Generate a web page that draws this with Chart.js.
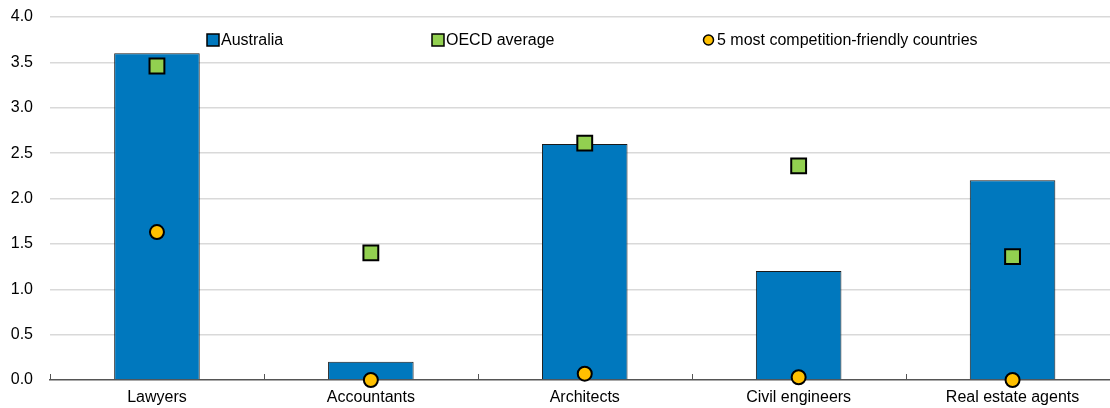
<!DOCTYPE html>
<html>
<head>
<meta charset="utf-8">
<script src="https://cdn.jsdelivr.net/npm/chart.js@4"></script>
<style>
  html, body { margin: 0; padding: 0; background: #fff; overflow: hidden; }
  #wrap { width: 1110px; height: 408px; overflow: hidden; }
</style>
</head>
<body>
<div id="wrap"><canvas id="chart" width="1132" height="408"></canvas></div>
<script>
// Professional services regulation scores
const categories = ['Lawyers', 'Accountants', 'Architects', 'Civil engineers', 'Real estate agents'];
const australia = [3.6, 0.2, 2.6, 1.2, 2.2];
const oecdAverage = [3.46, 1.4, 2.61, 2.36, 1.36];
const topFive = [1.63, 0.0, 0.07, 0.03, 0.0];
const seriesNames = ['Australia', 'OECD average', '5 most competition-friendly countries'];

const FONT = '"Liberation Sans", Arial, sans-serif';
const BLUE = '#0078BE';
const GREEN = '#92D050';
const YELLOW = '#FFC000';

// Small upward ticks between categories on the x axis
const categoryTicks = {
    id: 'categoryTicks',
    afterDraw(chart) {
        const { ctx, chartArea } = chart;
        const step = (chartArea.right - chartArea.left) / categories.length;
        ctx.save();
        ctx.strokeStyle = '#555';
        ctx.lineWidth = 1;
        for (let i = 0; i <= categories.length; i++) {
            const x = Math.round(chartArea.left + i * step) + 0.5;
            ctx.beginPath();
            ctx.moveTo(x, chartArea.bottom);
            ctx.lineTo(x, chartArea.bottom - 6);
            ctx.stroke();
        }
        ctx.restore();
    }
};

// Legend drawn inside the plot area, spread across the top
const insideLegend = {
    id: 'insideLegend',
    afterDraw(chart) {
        const { ctx } = chart;
        const y = 40;
        const items = [
            { x: 207, style: 'rect', color: BLUE },
            { x: 432, style: 'rect', color: GREEN },
            { x: 703, style: 'circle', color: YELLOW }
        ];
        ctx.save();
        ctx.font = '16px ' + FONT;
        ctx.textBaseline = 'middle';
        items.forEach((item, i) => {
            ctx.lineWidth = 1.5;
            ctx.strokeStyle = '#000';
            ctx.fillStyle = item.color;
            if (item.style === 'rect') {
                ctx.fillRect(item.x, y - 6, 12, 12);
                ctx.strokeRect(item.x, y - 6, 12, 12);
            } else {
                ctx.beginPath();
                ctx.arc(item.x + 5.5, y, 5, 0, Math.PI * 2);
                ctx.fill();
                ctx.stroke();
            }
            ctx.fillStyle = '#000';
            ctx.fillText(seriesNames[i], item.x + 14, y + 1);
        });
        ctx.restore();
    }
};

new Chart(document.getElementById('chart'), {
    type: 'bar',
    data: {
        labels: categories,
        datasets: [
            {
                label: seriesNames[0],
                data: australia,
                backgroundColor: BLUE,
                borderColor: '#1a1a1a',
                borderWidth: 1,
                barPercentage: 0.4,
                categoryPercentage: 1,
                order: 3
            },
            {
                type: 'line',
                label: seriesNames[1],
                data: oecdAverage,
                showLine: false,
                pointStyle: 'rect',
                pointRadius: 10.5,
                pointBackgroundColor: GREEN,
                pointBorderColor: '#000',
                pointBorderWidth: 2,
                clip: false,
                order: 2
            },
            {
                type: 'line',
                label: seriesNames[2],
                data: topFive,
                showLine: false,
                pointStyle: 'circle',
                pointRadius: 7,
                pointBackgroundColor: YELLOW,
                pointBorderColor: '#000',
                pointBorderWidth: 2,
                clip: false,
                order: 1
            }
        ]
    },
    options: {
        responsive: false,
        animation: false,
        layout: { padding: { top: 17, right: 0, bottom: 0, left: 0 } },
        plugins: {
            legend: { display: false },
            tooltip: { enabled: false }
        },
        scales: {
            x: {
                afterFit(scale) { scale.height = 28; },
                grid: { display: false, drawTicks: false },
                border: { display: true, color: '#555', width: 1.5 },
                ticks: { color: '#000', font: { family: FONT, size: 16 }, padding: 8 }
            },
            y: {
                min: 0,
                max: 4,
                afterFit(scale) {
                    scale.width = 50;
                    scale.paddingTop = 0;
                    scale.paddingBottom = 0;
                },
                ticks: {
                    stepSize: 0.5,
                    padding: 17,
                    color: '#000',
                    font: { family: FONT, size: 16 },
                    callback: v => v.toFixed(1)
                },
                grid: {
                    drawTicks: false,
                    lineWidth: 1.5,
                    color: ctx => ctx.tick && ctx.tick.value === 0 ? 'rgba(0,0,0,0)' : '#d9d9d9'
                },
                border: { display: false }
            }
        }
    },
    plugins: [categoryTicks, insideLegend]
});
</script>
</body>
</html>
